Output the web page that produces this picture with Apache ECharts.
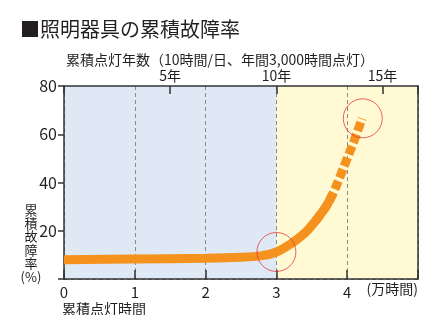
<!DOCTYPE html>
<html>
<head>
<meta charset="utf-8">
<script src="https://cdn.jsdelivr.net/npm/echarts@6/dist/echarts.min.js"></script>
<style>
html,body{margin:0;padding:0;background:#fff;}
#c{width:430px;height:315px;}
</style>
</head>
<body>
<div id="c"></div>
<script>
// ---- data ----
var solidX = [0, 1, 2, 2.5, 2.8, 3.0, 3.2, 3.4, 3.55, 3.7, 3.8];
var solidY = [8.0, 8.3, 8.6, 9.0, 9.7, 11.2, 14.5, 19, 24, 30, 35.5];
var dashX = [3.55, 3.7, 3.8, 3.9, 4.0, 4.1, 4.21];
var dashY = [24, 30, 35.5, 42.5, 50, 57.5, 66.5];
var circleX = [3.0, 4.22];
var circleY = [11.2, 66.6];
var hourTicks = [0, 1, 2, 3, 4];          // 万時間
var yearTicks = [5, 10, 15];               // 年
var rateTicks = [20, 40, 60, 80];          // %
var hoursPerYear = 0.3;                    // 3,000 h/year in 万時間

function pairs(xs, ys){ return xs.map(function(x,i){return [x, ys[i]];}); }

var FONT = '"Noto Sans CJK JP", "Noto Sans", sans-serif';
var TXT = '#231f20';
var chart = echarts.init(document.getElementById('c'), null, {renderer:'canvas'});
chart.setOption({
  animation: false,
  backgroundColor: '#fff',
  textStyle: {fontFamily: FONT, color: TXT},
  grid: {left: 64, right: 12, top: 86, bottom: 36},
  xAxis: [{
    type: 'value', position: 'bottom', min: 0, max: 5, interval: 1,
    axisLine: {onZero: false, lineStyle: {color: '#333', width: 1.5}},
    axisTick: {inside: true, length: 9, lineStyle: {color: '#333', width: 1.5}},
    axisLabel: {margin: 6, fontSize: 15, color: TXT, fontFamily: FONT,
      formatter: function(v){ return hourTicks.indexOf(v) >= 0 ? String(v) : ''; }},
    splitLine: {show: true, lineStyle: {color: '#8a8a8a', type: [4, 3], width: 1}},
    splitArea: {show: true, areaStyle: {color: ['#dfe9f5','#dfe9f5','#dfe9f5','#fff9d4','#fff9d4']}}
  }, {
    type: 'value', position: 'top', min: 0, max: 5 / hoursPerYear, interval: 5,
    axisLine: {onZero: false, lineStyle: {color: '#333', width: 1.5}},
    axisTick: {inside: true, length: 8, lineStyle: {color: '#333', width: 1.5}},
    axisLabel: {margin: 3, fontSize: 14, color: TXT, fontFamily: FONT,
      formatter: function(v){ return yearTicks.indexOf(v) >= 0 ? v + '年' : ''; }},
    splitLine: {show: false}
  }],
  yAxis: [{
    type: 'value', min: 0, max: 80, interval: 20,
    axisLine: {show: true, onZero: false, lineStyle: {color: '#333', width: 1.5}},
    axisTick: {show: true, length: 6, lineStyle: {color: '#333', width: 1.5}},
    axisLabel: {margin: 7, fontSize: 16, color: TXT, fontFamily: FONT,
      formatter: function(v){ return rateTicks.indexOf(v) >= 0 ? String(v) : ''; }},
    splitLine: {show: true, lineStyle: {color: '#8a8a8a', type: [4, 3], width: 1}}
  }, {
    type: 'value', min: 0, max: 80, interval: 20, position: 'right',
    axisLine: {show: true, onZero: false, lineStyle: {color: '#333', width: 1.5}},
    axisTick: {show: false}, axisLabel: {show: false}, splitLine: {show: false}
  }],
  series: [{
    type: 'line', xAxisIndex: 0, yAxisIndex: 0, data: pairs(solidX, solidY),
    smooth: 0.35, symbol: 'none', z: 3,
    lineStyle: {color: '#f5921e', width: 9, cap: 'butt'}
  }, {
    type: 'line', xAxisIndex: 0, yAxisIndex: 0, data: pairs(dashX, dashY),
    smooth: 0.35, symbol: 'none', z: 3,
    lineStyle: {color: '#f5921e', width: 9, cap: 'butt', type: [9, 3.5], dashOffset: 0}
  }, {
    type: 'scatter', xAxisIndex: 0, yAxisIndex: 0, data: pairs(circleX, circleY),
    symbol: 'circle', symbolSize: 39, z: 4, silent: true,
    itemStyle: {color: 'rgba(0,0,0,0)', borderColor: '#e63843', borderWidth: 1}
  }],
  graphic: [
    {type: 'text', left: 20, top: 19, style: {text: '■照明器具の累積故障率', fontSize: 20, fill: TXT, fontFamily: FONT}},
    {type: 'text', left: 66, top: 53, style: {text: '累積点灯年数（10時間/日、年間3,000時間点灯）', fontSize: 14, fill: TXT, fontFamily: FONT}},
    {type: 'text', left: 240, top: 102, style: {text: '15年が器具の\n耐用限度です。', fontSize: 14, lineHeight: 18.5, fill: TXT, fontFamily: FONT}},
    {type: 'text', left: 208, top: 192, style: {text: '8年〜10年で\n寿命が来ます。', fontSize: 14, lineHeight: 18.5, fill: TXT, fontFamily: FONT}},
    {type: 'text', x: 31, y: 203, style: {text: '累\n積\n故\n障\n率\n(%)', fontSize: 13, lineHeight: 13.4, align: 'center', fill: TXT, fontFamily: FONT}},
    {type: 'text', left: 62, top: 302, style: {text: '累積点灯時間', fontSize: 14, fill: TXT, fontFamily: FONT}},
    {type: 'text', right: 12, top: 282, style: {text: '(万時間)', fontSize: 14, fill: TXT, fontFamily: FONT}}
  ]
});
</script>
</body>
</html>
